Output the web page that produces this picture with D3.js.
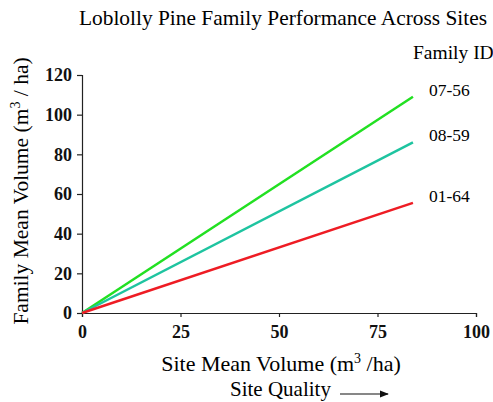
<!DOCTYPE html>
<html>
<head>
<meta charset="utf-8">
<script src="https://cdn.jsdelivr.net/npm/d3@7"></script>
<style>
  body { margin: 0; background: #fff; }
</style>
</head>
<body>
<svg id="svgRoot" width="493" height="402"></svg>
<script>
// data
const families = ["07-56", "08-59", "01-64"]
const colors = ["#22e022", "#1ec4a0", "#ee1c24"]
const site_start = 0
const site_end = 84
const family_start = [0, 0, 0]
const family_end = [109, 86, 55.5]
const x_ticks = [0, 25, 50, 75, 100]
const y_ticks = [0, 20, 40, 60, 80, 100, 120]

const serif = "'Liberation Serif', 'Times New Roman', serif"

function draw_vis() {
  let svg = d3.select("#svgRoot")

  const margin = { top: 75, left: 82, bottom: 89, right: 17 }
  let width = 493
  let height = 402

  let scale_x = d3.scaleLinear()
    .domain([0, 100])
    .range([margin.left, width - margin.right])

  let scale_y = d3.scaleLinear()
    .domain([0, 120])
    .range([height - margin.bottom, margin.top])

  // title
  svg.append("text")
    .attr("x", 283).attr("y", 25)
    .attr("text-anchor", "middle")
    .style("font-family", serif)
    .style("font-size", "21.4px")
    .text("Loblolly Pine Family Performance Across Sites")

  // axes
  let g_xAxis = svg.append("g")
    .attr("transform", "translate(0," + scale_y(0) + ")")
    .call(d3.axisBottom(scale_x).tickValues(x_ticks).tickSize(4).tickPadding(8))
  let g_yAxis = svg.append("g")
    .attr("transform", "translate(" + scale_x(0) + ",0)")
    .call(d3.axisLeft(scale_y).tickValues(y_ticks).tickSize(5).tickPadding(5))

  for (let g of [g_xAxis, g_yAxis]) {
    g.select(".domain").attr("stroke", "#222").attr("stroke-width", 1.2)
    g.selectAll(".tick line").attr("stroke", "#222").attr("stroke-width", 1.2)
    g.selectAll(".tick text")
      .attr("fill", "#111")
      .style("font-family", serif)
      .style("font-size", "18px")
      .style("font-weight", "bold")
  }

  // lines
  let lines = families.map((f, i) => ({
    name: f,
    color: colors[i],
    pts: [[site_start, family_start[i]], [site_end, family_end[i]]]
  }))

  let line = d3.line().x(d => scale_x(d[0])).y(d => scale_y(d[1]))

  svg.append("g").selectAll("path").data(lines).enter()
    .append("path")
    .attr("d", d => line(d.pts))
    .attr("fill", "none")
    .attr("stroke", d => d.color)
    .attr("stroke-width", 2.5)

  // labels at line ends
  svg.append("g").selectAll("text").data(lines).enter()
    .append("text")
    .attr("x", scale_x(site_end) + 16)
    .attr("y", d => scale_y(d.pts[1][1]) - 1)
    .style("font-family", serif)
    .style("font-size", "17.5px")
    .text(d => d.name)

  svg.append("text")
    .attr("x", 413).attr("y", 59)
    .style("font-family", serif)
    .style("font-size", "19.5px")
    .text("Family ID")

  // x title
  let xt = svg.append("text")
    .attr("x", 281).attr("y", 371)
    .attr("text-anchor", "middle")
    .style("font-family", serif)
    .style("font-size", "22px")
  xt.append("tspan").text("Site Mean Volume (m")
  xt.append("tspan").attr("dy", -8).style("font-size", "14px").text("3")
  xt.append("tspan").attr("dy", 8).text(" /ha)")

  // y title
  let yt = svg.append("text")
    .attr("transform", "translate(28,191) rotate(-90)")
    .attr("text-anchor", "middle")
    .style("font-family", serif)
    .style("font-size", "21.5px")
  yt.append("tspan").text("Family Mean Volume (m")
  yt.append("tspan").attr("dy", -8).style("font-size", "14px").text("3")
  yt.append("tspan").attr("dy", 8).text(" / ha)")

  // site quality arrow
  svg.append("defs").append("marker")
    .attr("id", "arr").attr("viewBox", "0 0 10 10")
    .attr("refX", 9).attr("refY", 5)
    .attr("markerWidth", 9).attr("markerHeight", 9)
    .attr("markerUnits", "userSpaceOnUse")
    .attr("orient", "auto")
    .append("path").attr("d", "M0,1 L10,5 L0,9 Z").attr("fill", "#111")

  svg.append("text")
    .attr("x", 230).attr("y", 396)
    .style("font-family", serif)
    .style("font-size", "21px")
    .text("Site Quality")

  svg.append("line")
    .attr("x1", 340).attr("x2", 388)
    .attr("y1", 394).attr("y2", 394)
    .attr("stroke", "#111").attr("stroke-width", 1.2)
    .attr("marker-end", "url(#arr)")
}

draw_vis()
</script>
</body>
</html>
